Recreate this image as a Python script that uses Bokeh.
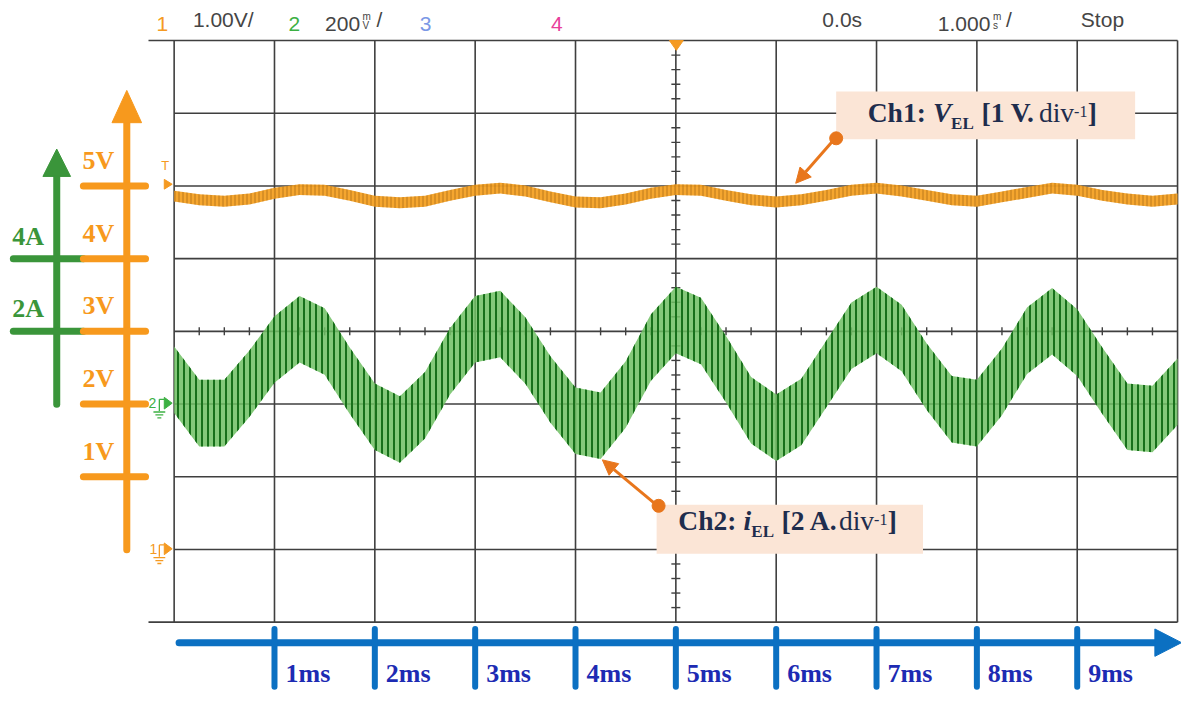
import numpy as np
from bokeh.plotting import figure
from bokeh.models import Range1d, Arrow, NormalHead
from bokeh.core.properties import value
from bokeh.embed import file_html
from bokeh.resources import INLINE

# ---------------- data ----------------
t_ms = [i * 0.25 for i in range(41)]          # sample times, ms from left edge

ch1_volts = [4.86, 4.81, 4.79, 4.82, 4.90, 4.95, 4.94, 4.87, 4.79, 4.77,
             4.79, 4.87, 4.94, 4.97, 4.93, 4.85, 4.78, 4.77, 4.82, 4.90,
             4.95, 4.94, 4.87, 4.81, 4.78, 4.81, 4.87, 4.94, 4.97, 4.93,
             4.87, 4.81, 4.79, 4.85, 4.91, 4.97, 4.94, 4.87, 4.82, 4.79,
             4.82]
ch1_ripple_pp = 0.15   # V peak-to-peak switching ripple

ch2_amps = [0.67, -0.25, -0.25, 0.56, 1.50, 2.06, 1.72, 0.64, -0.35, -0.70,
            -0.03, 1.18, 2.06, 2.20, 1.47, 0.40, -0.46, -0.60, 0.26, 1.55,
            2.31, 2.01, 0.96, -0.17, -0.65, -0.22, 0.83, 1.88, 2.31, 1.82,
            0.75, -0.14, -0.25, 0.61, 1.74, 2.28, 1.69, 0.64, -0.35, -0.41,
            0.34]
ch2_ripple_pp = 1.83   # A peak-to-peak switching ripple

volt_ticks = [1, 2, 3, 4, 5]
volt_labels = ["1V", "2V", "3V", "4V", "5V"]
amp_ticks = [2, 4]
amp_labels = ["2A", "4A"]
time_ticks = [1, 2, 3, 4, 5, 6, 7, 8, 9]
time_labels = ["1ms", "2ms", "3ms", "4ms", "5ms", "6ms", "7ms", "8ms", "9ms"]

n_hdiv, n_vdiv = 10, 8
volts_per_div, volt_zero_div = 1.0, 1
amps_per_div, amp_zero_div = 2.0, 3

# ---------------- geometry helpers (reference pixel -> data units) ----------------
def rx(px):
    return (px - 176.0) / 101.7      # ms

def ry(py):
    return (636.0 - py) / 74.375     # divisions

W, H = 1181, 692
SX = W / 1197.0
X0, X1 = rx(0), rx(1197)
Y0, Y1 = ry(708), ry(0)

p = figure(width=W, height=H, x_range=Range1d(X0, X1), y_range=Range1d(Y0, Y1),
           output_backend="svg", toolbar_location=None, min_border=0,
           x_axis_location=None, y_axis_location=None)
p.extra_y_ranges = {
    "volt": Range1d((Y0 - volt_zero_div) * volts_per_div, (Y1 - volt_zero_div) * volts_per_div),
    "amp": Range1d((Y0 - amp_zero_div) * amps_per_div, (Y1 - amp_zero_div) * amps_per_div),
}
p.grid.visible = False
p.outline_line_color = None
p.background_fill_color = "white"
p.border_fill_color = "white"

SERIF = value("Liberation Serif")
SANS = value("Liberation Sans")

# ---------------- scope graticule ----------------
gridc = "#3f3f3f"
vx = list(range(n_hdiv + 1))
p.segment(x0=vx, y0=[0] * len(vx), x1=vx, y1=[n_vdiv] * len(vx), line_color=gridc, line_width=1.6)
hy = list(range(n_vdiv + 1))
hx0 = [rx(150) if y in (0, n_vdiv) else 0 for y in hy]
p.segment(x0=hx0, y0=hy, x1=[n_hdiv] * len(hy), y1=hy, line_color=gridc, line_width=1.6)

ty = [k / 5 for k in range(1, n_vdiv * 5) if k % 5]
p.scatter(x=[n_hdiv / 2] * len(ty), y=ty, marker="dash", size=9, line_color=gridc, line_width=1.4)
tx = [k / 4 for k in range(1, n_hdiv * 4) if k % 4]
p.scatter(x=tx, y=[n_vdiv / 2] * len(tx), marker="dash", angle=np.pi / 2, size=8,
          line_color=gridc, line_width=1.4)

# ---------------- traces ----------------
c1_lo = [v - ch1_ripple_pp / 2 for v in ch1_volts]
c1_hi = [v + ch1_ripple_pp / 2 for v in ch1_volts]
p.varea(x=t_ms, y1=c1_lo, y2=c1_hi, y_range_name="volt", fill_color="#f4a124", fill_alpha=0.95,
        hatch_pattern="|", hatch_color="#95580e", hatch_scale=4, hatch_weight=1, hatch_alpha=0.6)

c2_lo = [a - ch2_ripple_pp / 2 for a in ch2_amps]
c2_hi = [a + ch2_ripple_pp / 2 for a in ch2_amps]
p.varea(x=t_ms, y1=c2_lo, y2=c2_hi, y_range_name="amp", fill_color="#6fbf63", fill_alpha=0.85,
        hatch_pattern="|", hatch_color="#17701a", hatch_scale=6, hatch_weight=2)

# ---------------- scope markers ----------------
orange_s = "#f59a22"
green_s = "#3cb043"
p.patch(x=[rx(678), rx(692), rx(685)], y=[ry(41), ry(41), ry(51)], color=orange_s)
p.patch(x=[rx(166), rx(166), rx(174)], y=[ry(183), ry(193), ry(188)], color=orange_s)
p.text(x=[rx(163)], y=[ry(176)], text=["T"], text_font=SANS, text_font_size="13px",
       text_color=orange_s)

def ground(cx, cy, col, label):
    p.patch(x=[rx(166), rx(166), rx(174)], y=[ry(cy - 6), ry(cy + 6), ry(cy)], color=col)
    p.segment(x0=[rx(161), rx(161)], y0=[ry(cy - 4), ry(cy - 4)], x1=[rx(166), rx(161)],
              y1=[ry(cy - 4), ry(cy + 8)], line_color=col, line_width=1.3)
    p.segment(x0=[rx(155), rx(157), rx(159)], y0=[ry(cy + 9), ry(cy + 12), ry(cy + 15)],
              x1=[rx(167), rx(165), rx(163)], y1=[ry(cy + 9), ry(cy + 12), ry(cy + 15)],
              line_color=col, line_width=1.3)
    p.text(x=[rx(cx)], y=[ry(cy + 5)], text=[label], text_font=SANS, text_font_size="14px",
           text_color=col)

ground(150, 412, green_s, "2")
ground(151, 561, orange_s, "1")

# ---------------- header ----------------
hdr_text = ["1", "1.00V/", "2", "200", "/", "3", "4", "0.0s", "1.000", "/", "Stop"]
hdr_x = [158, 195, 292, 329, 381, 425, 558, 833, 950, 1019, 1095]
hdr_col = [orange_s, "#454545", green_s, "#454545", "#454545", "#7b98e6", "#e8409a",
           "#454545", "#454545", "#454545", "#454545"]
p.text(x=[rx(v) for v in hdr_x], y=[ry(31)] * len(hdr_x), text=hdr_text, text_color=hdr_col,
       text_font=SANS, text_font_size="21px")
p.text(x=[rx(367), rx(367), rx(1006), rx(1006)], y=[ry(22), ry(31), ry(22), ry(31)],
       text=["m", "V", "m", "s"], text_color="#454545", text_font=SANS, text_font_size="10px")

# ---------------- left annotation axes ----------------
orange_a = "#f7991d"
green_a = "#3a953a"
# green axis
p.segment(x0=[rx(57)], y0=[ry(413)], x1=[rx(57)], y1=[ry(176)], line_color=green_a,
          line_width=7, line_cap="round")
p.patch(x=[rx(57), rx(43), rx(71)], y=[ry(152), ry(180), ry(180)], color=green_a)
p.segment(x0=[rx(13)] * 2, y0=amp_ticks, x1=[rx(84)] * 2, y1=amp_ticks, y_range_name="amp",
          line_color=green_a, line_width=7, line_cap="round")
p.text(x=[rx(12)] * 2, y=amp_ticks, text=amp_labels, y_range_name="amp", y_offset=-8,
       text_font=SERIF, text_font_style="bold", text_font_size="26px", text_color=green_a)
# orange axis
p.segment(x0=[rx(128)], y0=[ry(562)], x1=[rx(128)], y1=[ry(122)], line_color=orange_a,
          line_width=7, line_cap="round")
p.patch(x=[rx(128), rx(113), rx(143)], y=[ry(92), ry(125), ry(125)], color=orange_a)
p.segment(x0=[rx(84)] * 5, y0=volt_ticks, x1=[rx(147)] * 5, y1=volt_ticks, y_range_name="volt",
          line_color=orange_a, line_width=7, line_cap="round")
p.text(x=[rx(83)] * 5, y=volt_ticks, text=volt_labels, y_range_name="volt", y_offset=-11,
       text_font=SERIF, text_font_style="bold", text_font_size="26px", text_color=orange_a)

# ---------------- bottom time axis ----------------
blue_a = "#0b70c2"
p.segment(x0=[rx(181)], y0=[ry(657)], x1=[rx(1176)], y1=[ry(657)], line_color=blue_a,
          line_width=7, line_cap="round")
p.patch(x=[rx(1197), rx(1170), rx(1170)], y=[ry(657), ry(643), ry(671)], color=blue_a)
p.segment(x0=time_ticks, y0=[ry(643)] * 9, x1=time_ticks, y1=[ry(702)] * 9, line_color=blue_a,
          line_width=6, line_cap="round")
p.text(x=time_ticks, y=[ry(703)] * 9, text=time_labels, x_offset=11, text_font=SERIF,
       text_font_style="bold", text_font_size="26px", text_color="#1d2bb3")

# ---------------- channel call-outs ----------------
box_c = "#fbe5d6"
txt_c = "#1f2d4d"
ann_c = "#e8761c"
p.quad(left=[rx(847), rx(665)], right=[rx(1150), rx(935)], top=[ry(93), ry(516)],
       bottom=[ry(142), ry(566)], fill_color=box_c, line_color=None)

def rich(x, y, pieces):
    for s, off, size, style, dy in pieces:
        p.text(x=[x], y=[y], text=[s], x_offset=off * SX, y_offset=dy, text_font=SERIF,
               text_font_style=style, text_font_size=f"{size}px", text_color=txt_c)

rich(rx(879), ry(130), [("Ch1:", 0, 27.5, "bold", 0), ("V", 66.1, 27.5, "bold italic", 0),
                        ("EL", 84.5, 17, "bold", 5), ("[1 V.", 115.3, 27.5, "bold", 0),
                        ("div", 173.5, 27.5, "normal", 0), ("-1", 209.1, 16, "normal", -11),
                        ("]", 223.0, 27.5, "bold", 0)])
rich(rx(687), ry(548), [("Ch2:", 0, 27.5, "bold", 0), ("i", 66.1, 27.5, "bold italic", 0),
                        ("EL", 74.0, 17, "bold", 5), ("[2 A.", 104.6, 27.5, "bold", 0),
                        ("div", 162.8, 27.5, "normal", 0), ("-1", 198.4, 16, "normal", -11),
                        ("]", 212.3, 27.5, "bold", 0)])

p.add_layout(Arrow(end=NormalHead(size=15, fill_color=ann_c, line_color=ann_c),
                   x_start=rx(846), y_start=ry(141), x_end=rx(806), y_end=ry(187),
                   line_color=ann_c, line_width=3))
p.add_layout(Arrow(end=NormalHead(size=15, fill_color=ann_c, line_color=ann_c),
                   x_start=rx(666), y_start=ry(517), x_end=rx(610), y_end=ry(470),
                   line_color=ann_c, line_width=3))
p.scatter(x=[rx(847), rx(667)], y=[ry(141), ry(517)], size=13, color=ann_c)

open("out.html", "w").write(file_html(p, INLINE))
